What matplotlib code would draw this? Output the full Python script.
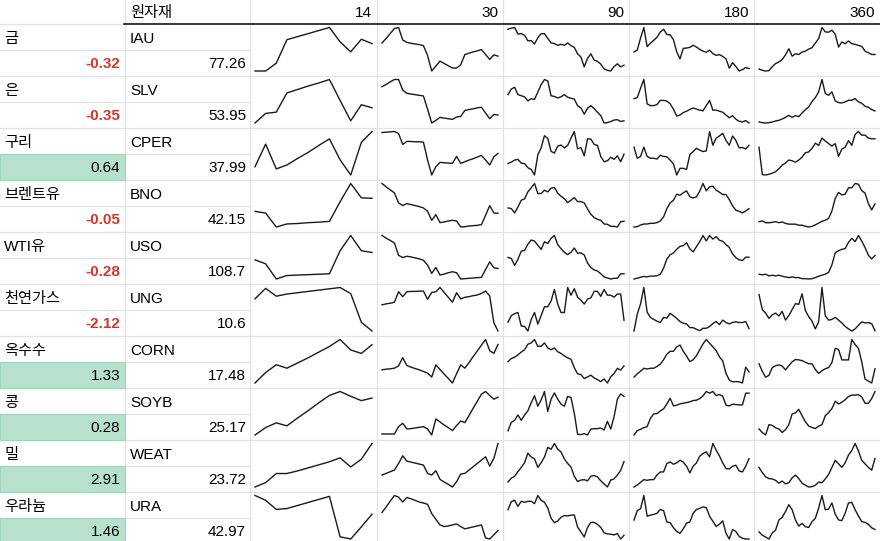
import matplotlib
matplotlib.use("Agg")
import matplotlib.pyplot as plt
from matplotlib.patches import Rectangle

plt.rcParams['font.family'] = ['Liberation Sans', 'Noto Sans CJK KR', 'DejaVu Sans']

# ---------------- data ----------------
names = ["금", "은", "구리", "브렌트유", "WTI유", "천연가스", "옥수수", "콩", "밀", "우라늄"]
tickers = ["IAU", "SLV", "CPER", "BNO", "USO", "UNG", "CORN", "SOYB", "WEAT", "URA"]
changes = [-0.32, -0.35, 0.64, -0.05, -0.28, -2.12, 1.33, 0.28, 2.91, 1.46]
prices = [77.26, 53.95, 37.99, 42.15, 108.7, 10.6, 17.48, 25.17, 23.72, 42.97]
header_title = "원자재"
periods = ["14", "30", "90", "180", "360"]

spark14 = [
    [0, 0, 18, 72, 79, 86, 93, 100, 67, 44, 73, 63],
    [0, 22, 25, 69, 77, 85, 92, 100, 52, 5, 42, 35],
    [19, 71, 14, 23, 38, 52, 68, 83, 35, 0, 75, 100],
    [36, 32, 0, 7, 8, 10, 11, 13, 58, 100, 67, 66],
    [44, 35, 0, 8, 9, 10, 11, 12, 65, 100, 65, 61],
    [74, 98, 80, 85, 88, 91, 94, 97, 100, 86, 20, 0],
    [0, 24, 42, 34, 46, 58, 71, 84, 100, 76, 68, 88],
    [0, 17, 28, 21, 39, 56, 74, 91, 100, 89, 79, 85],
    [0, 10, 31, 31, 37, 44, 51, 58, 67, 46, 64, 100],
    [100, 89, 68, 70, 77, 84, 91, 98, 5, 0, 28, 57],
]

spark30 = [
    [85, 99, 114, 129, 132, 94, 87, 84, 82, 80, 77, 47, 0, 15, 30, 23, 16, 9, 9, 19, 50, 54, 58, 61, 65, 50, 35, 49, 45],
    [110, 117, 125, 132, 132, 100, 90, 88, 86, 84, 82, 42, 0, 8, 17, 15, 13, 11, 18, 20, 38, 41, 43, 46, 48, 30, 13, 26, 24],
    [128, 129, 130, 131, 125, 92, 101, 101, 100, 100, 99, 45, 0, 25, 38, 37, 36, 35, 56, 35, 40, 45, 49, 54, 59, 45, 30, 55, 65],
    [130, 120, 111, 102, 72, 64, 70, 67, 64, 61, 57, 47, 20, 37, 13, 15, 18, 20, 18, 0, 1, 3, 4, 5, 7, 35, 64, 42, 41],
    [132, 124, 117, 109, 72, 65, 69, 67, 64, 61, 57, 42, 17, 35, 12, 15, 19, 22, 19, 0, 1, 2, 3, 4, 5, 29, 52, 34, 32],
    [80, 83, 85, 88, 120, 105, 120, 121, 121, 122, 122, 97, 118, 120, 133, 118, 103, 88, 117, 98, 103, 105, 108, 110, 115, 122, 107, 25, 0],
    [40, 42, 43, 45, 52, 77, 53, 48, 44, 40, 35, 30, 18, 55, 41, 27, 14, 0, 28, 55, 45, 62, 80, 97, 115, 132, 98, 90, 117],
    [3, 3, 3, 3, 25, 35, 18, 19, 21, 23, 25, 18, 0, 48, 39, 30, 22, 13, 28, 42, 37, 58, 80, 101, 122, 130, 118, 107, 113],
    [36, 41, 46, 51, 71, 94, 78, 75, 72, 69, 66, 41, 36, 49, 23, 15, 8, 0, 16, 39, 41, 51, 61, 71, 81, 91, 63, 86, 131],
    [81, 98, 116, 133, 128, 113, 127, 123, 118, 113, 110, 106, 78, 60, 43, 38, 40, 43, 46, 38, 31, 34, 37, 40, 43, 3, 0, 13, 26],
]

spark90 = [
    [124, 127, 129, 110, 111, 106, 90, 91, 81, 99, 111, 111, 97, 84, 82, 77, 80, 77, 84, 76, 71, 52, 43, 14, 39, 52, 34, 30, 22, 8, 4, 2, 15, 23, 14, 19],
    [80, 95, 100, 80, 77, 74, 63, 69, 67, 87, 107, 121, 117, 77, 75, 71, 74, 80, 73, 70, 68, 50, 44, 27, 43, 50, 42, 32, 23, 3, 4, 7, 11, 12, 7, 9],
    [35, 39, 45, 47, 36, 35, 23, 18, 2, 60, 80, 115, 107, 70, 65, 85, 88, 80, 87, 108, 127, 77, 81, 57, 106, 105, 90, 87, 55, 40, 43, 53, 47, 57, 40, 62],
    [57, 55, 42, 60, 80, 84, 105, 117, 130, 100, 100, 110, 105, 116, 118, 101, 92, 85, 73, 80, 88, 76, 76, 72, 54, 38, 28, 23, 20, 9, 8, 2, 2, 0, 16, 17],
    [62, 59, 39, 57, 80, 82, 100, 112, 109, 97, 85, 107, 102, 117, 125, 99, 87, 77, 70, 77, 89, 74, 75, 69, 46, 33, 26, 23, 15, 6, 3, 0, 2, 2, 15, 15],
    [25, 42, 47, 50, 15, 14, 2, 32, 50, 20, 42, 65, 65, 80, 110, 72, 50, 50, 115, 95, 112, 90, 82, 72, 85, 88, 105, 105, 92, 110, 95, 95, 90, 98, 98, 30],
    [65, 74, 78, 85, 93, 100, 116, 120, 130, 110, 110, 120, 105, 100, 105, 94, 89, 82, 76, 72, 47, 29, 27, 15, 20, 25, 17, 12, 6, 14, 2, 20, 30, 45, 40, 52],
    [15, 39, 45, 60, 45, 60, 72, 95, 115, 85, 103, 127, 70, 105, 123, 105, 91, 85, 113, 110, 65, 5, 4, 7, 3, 20, 21, 21, 23, 17, 42, 20, 55, 105, 120, 113],
    [15, 25, 30, 42, 53, 65, 90, 80, 75, 53, 65, 80, 105, 100, 115, 100, 93, 75, 63, 54, 30, 16, 20, 21, 18, 30, 32, 28, 18, 10, 2, 20, 23, 33, 45, 68],
    [88, 112, 116, 98, 113, 110, 113, 113, 106, 130, 116, 110, 93, 63, 50, 55, 66, 71, 70, 72, 73, 37, 23, 8, 36, 51, 51, 45, 36, 20, 17, 16, 14, 18, 2, 13],
]

spark180 = [
    [57, 62, 97, 127, 72, 82, 90, 99, 114, 122, 107, 106, 92, 57, 37, 67, 68, 70, 76, 71, 64, 59, 56, 62, 52, 47, 49, 44, 37, 10, 26, 15, 2, 6, 12, 9],
    [70, 73, 100, 125, 55, 50, 50, 53, 65, 65, 63, 55, 40, 20, 23, 30, 34, 39, 43, 40, 37, 35, 50, 65, 37, 37, 34, 31, 23, 15, 21, 11, 5, 3, 7, 0],
    [85, 55, 60, 85, 60, 55, 55, 53, 63, 60, 59, 50, 40, 10, 28, 28, 25, 65, 73, 82, 77, 73, 75, 127, 90, 109, 115, 122, 103, 90, 115, 103, 83, 84, 80, 90],
    [0, 1, 6, 9, 9, 11, 11, 13, 18, 30, 55, 72, 80, 98, 95, 102, 108, 90, 87, 90, 107, 130, 108, 120, 122, 110, 104, 97, 97, 82, 63, 50, 47, 42, 48, 55],
    [2, 4, 7, 9, 8, 10, 10, 11, 15, 32, 57, 69, 74, 84, 92, 94, 102, 85, 77, 91, 105, 122, 107, 122, 112, 119, 109, 106, 97, 89, 71, 61, 55, 53, 62, 62],
    [0, 50, 80, 128, 55, 40, 34, 29, 25, 40, 38, 52, 45, 37, 28, 23, 21, 10, 10, 5, 1, 8, 8, 13, 22, 28, 19, 32, 25, 21, 25, 27, 25, 25, 28, 7],
    [28, 37, 44, 52, 50, 52, 52, 57, 63, 75, 90, 98, 98, 110, 115, 98, 85, 70, 75, 86, 102, 118, 130, 120, 110, 100, 83, 72, 38, 20, 15, 16, 15, 12, 55, 42],
    [0, 13, 17, 22, 25, 50, 63, 64, 72, 78, 93, 110, 87, 89, 93, 95, 97, 99, 103, 104, 109, 117, 130, 125, 130, 118, 121, 116, 89, 87, 92, 91, 90, 90, 125, 125],
    [0, 6, 14, 22, 20, 22, 22, 36, 45, 45, 70, 75, 68, 72, 80, 74, 62, 42, 62, 72, 92, 100, 105, 90, 130, 110, 93, 72, 55, 54, 62, 65, 48, 45, 62, 85],
    [63, 88, 93, 128, 73, 76, 78, 81, 91, 88, 58, 56, 43, 33, 28, 40, 55, 58, 81, 91, 94, 98, 96, 73, 60, 46, 52, 61, 28, 13, 38, 33, 20, 15, 13, 13],
]

spark360 = [
    [7, 3, 1, 2, 14, 23, 28, 35, 49, 67, 45, 52, 50, 57, 60, 66, 70, 84, 97, 130, 117, 116, 122, 110, 72, 87, 82, 90, 82, 80, 77, 74, 60, 55, 50, 50],
    [3, 1, 0, 1, 3, 6, 8, 12, 17, 23, 17, 22, 19, 30, 40, 48, 64, 76, 93, 130, 88, 83, 93, 66, 61, 60, 63, 68, 68, 73, 63, 59, 50, 47, 40, 36],
    [77, 2, 1, 3, 6, 10, 18, 28, 34, 42, 40, 36, 42, 50, 62, 64, 74, 88, 82, 102, 94, 87, 80, 87, 52, 72, 77, 95, 82, 112, 120, 110, 110, 102, 100, 100],
    [15, 17, 12, 12, 13, 15, 12, 14, 10, 8, 8, 8, 5, 5, 2, 0, 2, 6, 11, 16, 19, 24, 45, 80, 97, 90, 92, 110, 110, 122, 120, 102, 95, 66, 48, 65],
    [15, 13, 15, 10, 12, 10, 12, 9, 7, 5, 7, 5, 5, 2, 2, 1, 2, 5, 9, 12, 15, 20, 42, 77, 83, 87, 89, 107, 119, 109, 127, 111, 92, 70, 59, 69],
    [108, 65, 55, 40, 50, 55, 47, 60, 35, 48, 65, 82, 80, 110, 62, 45, 32, 10, 30, 128, 47, 35, 37, 43, 35, 27, 17, 10, 4, 10, 20, 30, 27, 28, 25, 5],
    [65, 45, 30, 35, 55, 60, 62, 59, 49, 60, 70, 76, 75, 73, 69, 65, 65, 50, 40, 47, 52, 55, 68, 105, 102, 75, 75, 75, 128, 115, 105, 70, 25, 20, 15, 52],
    [25, 15, 8, 37, 35, 28, 25, 15, 23, 37, 67, 70, 80, 62, 45, 33, 29, 26, 33, 37, 62, 71, 82, 103, 95, 100, 107, 116, 120, 120, 121, 115, 97, 97, 110, 130],
    [60, 45, 33, 28, 27, 23, 15, 21, 13, 16, 30, 38, 28, 15, 9, 4, 5, 9, 18, 16, 27, 40, 60, 80, 70, 60, 73, 95, 108, 128, 107, 80, 70, 60, 52, 85],
    [23, 13, 8, 2, 20, 28, 58, 66, 83, 103, 88, 58, 40, 48, 38, 36, 53, 63, 93, 130, 88, 90, 108, 75, 58, 56, 78, 108, 110, 88, 70, 53, 51, 45, 35, 30],
]

sparks = [spark14, spark30, spark90, spark180, spark360]

# ---------------- layout ----------------
W, H = 880, 541
col_edges = [0, 125, 250, 377, 503, 629, 754, 880]
header_h = 24
row_h = 52
sub_h = 26
grid_c = "#e2e2e2"
red_c = "#d0392b"
green_c = "#b7e1cd"
fs = 11

fig = plt.figure(figsize=(W / 100, H / 100), dpi=100)
fig.patch.set_facecolor("white")
ax = fig.add_axes([0, 0, 1, 1])
ax.set_xlim(0, W)
ax.set_ylim(H, 0)
ax.axis("off")

n = len(names)

# green backgrounds for positive changes
for i, c in enumerate(changes):
    top = header_h + i * row_h + sub_h
    if c > 0:
        ax.add_patch(Rectangle((0, top), col_edges[1] - 0.5, sub_h,
                               facecolor=green_c, edgecolor="#a3d4bb", lw=0.8, zorder=1))

# grid lines
for i in range(n):
    top = header_h + i * row_h
    ax.plot([0, col_edges[2]], [top + sub_h, top + sub_h], color=grid_c, lw=0.9, zorder=0.5)
    ax.plot([0, W], [top + row_h, top + row_h], color=grid_c, lw=0.9, zorder=0.5)
ax.plot([0, col_edges[1]], [header_h, header_h], color=grid_c, lw=0.9, zorder=0.5)
for x in col_edges[1:-1]:
    ax.plot([x, x], [0, H], color=grid_c, lw=0.9, zorder=0.5)
# header black line
ax.plot([col_edges[1] - 1, W], [header_h - 0.5, header_h - 0.5], color="black", lw=1.1, zorder=3)

# header text
ax.text(col_edges[1] + 5, 17, header_title, fontsize=fs, ha="left", va="baseline")
for j, p in enumerate(periods):
    ax.text(col_edges[3 + j] - 5, 17, p, fontsize=fs, ha="right", va="baseline")

# row text
for i in range(n):
    top = header_h + i * row_h
    ax.text(4, top + 19, names[i], fontsize=fs, ha="left", va="baseline", zorder=4)
    ax.text(col_edges[1] + 5, top + 19, tickers[i], fontsize=fs, ha="left", va="baseline", zorder=4)
    c = changes[i]
    if c < 0:
        ax.text(col_edges[1] - 5, top + sub_h + 18.5, f"{c:.2f}", fontsize=fs, ha="right",
                va="baseline", color=red_c, fontweight="bold", zorder=4)
    else:
        ax.text(col_edges[1] - 5, top + sub_h + 18.5, f"{c:.2f}", fontsize=fs, ha="right",
                va="baseline", color="black", zorder=4)
    ax.text(col_edges[2] - 4, top + sub_h + 18.5, str(prices[i]), fontsize=fs, ha="right",
            va="baseline", zorder=4)

# sparklines
for j, series_set in enumerate(sparks):
    left = col_edges[2 + j] + 5
    right = col_edges[3 + j] - 5
    for i in range(n):
        top = header_h + i * row_h + 3.5
        bottom = header_h + (i + 1) * row_h - 5
        sax = fig.add_axes([left / W, 1 - bottom / H, (right - left) / W, (bottom - top) / H])
        vals = series_set[i]
        sax.plot(range(len(vals)), vals, color="#1a1a1a", lw=1.0, clip_on=False,
                 solid_joinstyle="round")
        sax.set_xlim(0, len(vals) - 1)
        sax.set_ylim(min(vals), max(vals))
        sax.axis("off")

fig.savefig("out.png", dpi=100, facecolor="white")
